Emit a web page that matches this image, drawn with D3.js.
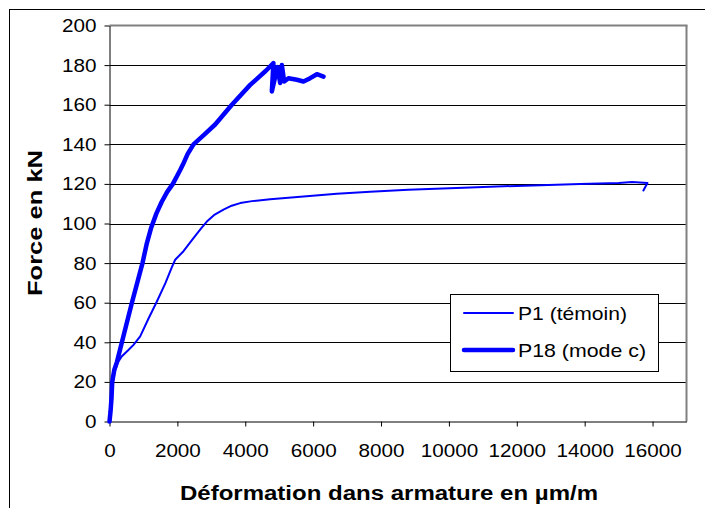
<!DOCTYPE html>
<html><head><meta charset="utf-8">
<script src="https://cdn.jsdelivr.net/npm/d3@7"></script>
<style>body{margin:0;background:#fff}svg{display:block}text{font-family:"Liberation Sans",Arial,sans-serif}</style>
</head><body><svg id="c" width="705" height="508"></svg>
<script>
const xTicks = [0,2000,4000,6000,8000,10000,12000,14000,16000];
const yTicks = [0,20,40,60,80,100,120,140,160,180,200];
const seriesNames = ["P1 (témoin)","P18 (mode c)"];
const p1Strain = [0,50,150,250,365,550,707,904,1150,1396,1650,1838,1935,2180,2474,2700,2868,3100,3358,3600,3850,4200,4734,5716,6698,7680,8800,10625,12000,13864,15000,15400,15850,15730];
const p1Force  = [0,15,25,30,33,36,38.7,43,52,60.6,70,78,81.7,86,92.6,97.5,101,104.5,107,109,110.3,111.3,112.3,113.6,115,116,117,118.2,119,119.9,120.5,121,120.4,116.7];
const p18Strain = [0,30,60,80,140,218,365,660,972,1100,1230,1380,1540,1700,1867,2083,2170,2300,2475,2800,3113,3605,4145,4600,4830,4783,4948,5028,5078,5146,5273,5520,5715,5913,6110,6306];
const p18Force  = [0,5,12,20,26,30,40,60,80,90,98,105,111,116,120,127,130,135,140,145,150,160,170,177,181,166.7,179,171,180,171.7,173.4,172.6,171.7,173.4,175.4,174.2];

const svg = d3.select("#c");
const L=109.5,R=686.5,T=25.5,B=421.5;
const x = d3.scaleLinear().domain([0,17000]).range([L,R]);
const y = d3.scaleLinear().domain([0,200]).range([B,T]);

svg.append("rect").attr("x",9.5).attr("y",9.5).attr("width",900).attr("height",700)
  .attr("fill","#fff").attr("stroke","#000").attr("stroke-width",1);

svg.append("g").selectAll("line").data(yTicks.filter(d=>d>0&&d<200)).join("line")
  .attr("x1",L).attr("x2",R).attr("y1",d=>Math.round(y(d))+0.5).attr("y2",d=>Math.round(y(d))+0.5)
  .attr("stroke","#000").attr("stroke-width",1);
svg.append("line").attr("x1",L).attr("x2",R+1).attr("y1",T).attr("y2",T).attr("stroke","#808080").attr("stroke-width",2);
svg.append("line").attr("x1",R).attr("x2",R).attr("y1",T).attr("y2",B).attr("stroke","#808080").attr("stroke-width",2);

const yAxis = d3.axisLeft(y).tickValues(yTicks).tickSize(5).tickSizeOuter(0).tickFormat(d3.format("d"));
const gy = svg.append("g").attr("transform",`translate(${L},0)`).call(yAxis);
const xAxis = d3.axisBottom(x).tickValues(xTicks).tickSize(5).tickSizeOuter(0).tickFormat(d3.format("d"));
const gx = svg.append("g").attr("transform",`translate(0,${B})`).call(xAxis);
[gx,gy].forEach(g=>{
  g.select(".domain").attr("stroke","#000");
  g.selectAll(".tick line").attr("stroke","#000");
  g.selectAll("text").attr("font-size",19).attr("fill","#000").attr("font-family","Liberation Sans, Arial, sans-serif")
    .attr("textLength",function(){return this.textContent.length*11.5;}).attr("lengthAdjust","spacingAndGlyphs");
});
gy.selectAll("text").attr("x",-13);
gx.selectAll("text").attr("y",22);

const line = d3.line().x(d=>x(d[0])).y(d=>y(d[1])).curve(d3.curveLinear);
const p1 = d3.zip(p1Strain,p1Force);
const p18 = d3.zip(p18Strain,p18Force);
svg.append("path").datum(p1).attr("d",line).attr("fill","none").attr("stroke","#0000ff")
  .attr("stroke-width",2).attr("stroke-linejoin","round").attr("stroke-linecap","round");
svg.append("path").datum(p18).attr("d",line).attr("fill","none").attr("stroke","#0000ff")
  .attr("stroke-width",4.5).attr("stroke-linejoin","round").attr("stroke-linecap","round");

svg.append("text").attr("x",389).attr("y",500).attr("text-anchor","middle")
  .attr("font-size",20).attr("font-weight","bold")
  .attr("textLength",418).attr("lengthAdjust","spacingAndGlyphs")
  .text("Déformation dans armature en µm/m");
svg.append("text").attr("transform","translate(42,223) rotate(-90)").attr("text-anchor","middle")
  .attr("font-size",20).attr("font-weight","bold")
  .attr("textLength",146).attr("lengthAdjust","spacingAndGlyphs")
  .text("Force en kN");

const lg = svg.append("g");
lg.append("rect").attr("x",450.5).attr("y",294.5).attr("width",208).attr("height",77)
  .attr("fill","#fff").attr("stroke","#000").attr("stroke-width",1);
const widths=[2,4.5], ys=[313,350], tl=[109,128];
seriesNames.forEach((n,i)=>{
  lg.append("line").attr("x1",464).attr("x2",513).attr("y1",ys[i]).attr("y2",ys[i])
    .attr("stroke","#0000ff").attr("stroke-width",widths[i]).attr("stroke-linecap","round");
  lg.append("text").attr("x",518).attr("y",ys[i]+7).attr("font-size",19)
    .attr("textLength",tl[i]).attr("lengthAdjust","spacingAndGlyphs").text(n);
});
</script></body></html>
